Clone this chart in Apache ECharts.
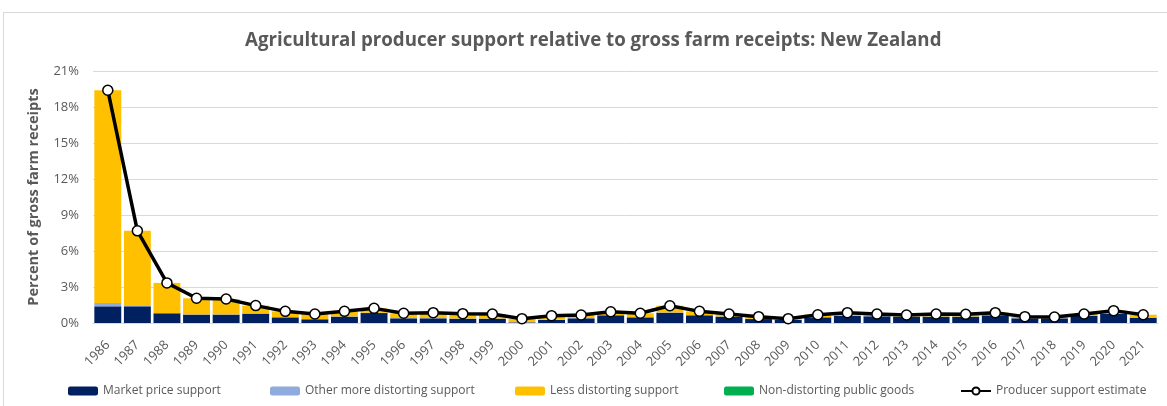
<!DOCTYPE html>
<html><head><meta charset="utf-8">
<script src="https://cdn.jsdelivr.net/npm/echarts@6/dist/echarts.min.js"></script>
<style>html,body{margin:0;padding:0;background:#fff}#c{width:1167px;height:406px}</style>
</head><body><div id="c"></div>
<script>
var years = ['1986','1987','1988','1989','1990','1991','1992','1993','1994','1995','1996','1997','1998','1999','2000','2001','2002','2003','2004','2005','2006','2007','2008','2009','2010','2011','2012','2013','2014','2015','2016','2017','2018','2019','2020','2021'];
var marketPrice = [1.39,1.39,0.81,0.70,0.70,0.78,0.47,0.31,0.53,0.83,0.39,0.39,0.36,0.36,0.05,0.25,0.39,0.64,0.47,0.86,0.64,0.53,0.33,0.25,0.47,0.61,0.56,0.53,0.53,0.53,0.64,0.39,0.39,0.61,0.75,0.44];
var otherDistorting = [0.28,0.03,0.02,0.02,0.02,0.02,0.02,0.02,0.02,0.02,0.02,0.02,0.02,0.02,0.02,0.02,0.02,0.02,0.02,0.02,0.02,0.02,0.02,0.02,0.02,0.02,0.02,0.02,0.02,0.02,0.02,0.02,0.02,0.02,0.02,0.02];
var lessDistorting = [17.73,6.26,2.51,1.34,1.28,0.65,0.48,0.42,0.42,0.37,0.40,0.45,0.40,0.37,0.29,0.34,0.26,0.28,0.32,0.56,0.31,0.20,0.18,0.09,0.20,0.23,0.17,0.12,0.20,0.17,0.20,0.12,0.09,0.12,0.26,0.23];
var nonDistorting = [0,0,0,0,0,0,0,0,0,0,0,0,0,0,0,0,0,0,0,0,0,0,0,0,0,0,0,0,0,0,0,0,0,0,0,0];
var pse = [19.40,7.68,3.34,2.06,2.00,1.45,0.97,0.75,0.97,1.22,0.81,0.86,0.78,0.75,0.36,0.61,0.67,0.94,0.81,1.44,0.97,0.75,0.53,0.36,0.69,0.86,0.75,0.67,0.75,0.72,0.86,0.53,0.50,0.75,1.03,0.69];
var seriesNames = ['Market price support','Other more distorting support','Less distorting support','Non-distorting public goods','Producer support estimate'];
var yTicks = {min:0, max:21, interval:3};

var FONT = 'Open Sans';
var grey = '#595959';
var chart = echarts.init(document.getElementById('c'), null, {renderer:'canvas'});
function bar(name, data, color){
  return {name:name, type:'bar', stack:'s', data:data, barCategoryGap:'9%',
    itemStyle:{color:color}, emphasis:{disabled:true}};
}
var legendLefts = [63, 265, 510, 719, 955];
var legends = seriesNames.map(function(n, i){
  return {left:legendLefts[i], top:380, itemWidth:30, itemHeight:9, itemGap:0,
    textStyle:{fontFamily:FONT,fontSize:12,color:grey}, data:[{name:n}], selectedMode:false};
});
chart.setOption({
  animation:false,
  textStyle:{fontFamily:FONT},
  graphic:[
    {type:'line', shape:{x1:3,y1:12.5,x2:1167,y2:12.5}, style:{stroke:'#D9D9D9',lineWidth:1}},
    {type:'line', shape:{x1:3.5,y1:12,x2:3.5,y2:406}, style:{stroke:'#D9D9D9',lineWidth:1}}
  ],
  title:{text:'Agricultural producer support relative to gross farm receipts: New Zealand',
    left:240, top:26, textStyle:{fontFamily:FONT,fontSize:18.7,fontWeight:'bold',color:grey}},
  grid:{left:93, right:9, top:71, bottom:83},
  legend:legends,
  xAxis:{type:'category', data:years,
    axisLine:{lineStyle:{color:'#D9D9D9'}}, axisTick:{show:false},
    axisLabel:{rotate:45, interval:0, fontFamily:FONT, fontSize:13, color:grey, margin:20}},
  yAxis:{type:'value', min:yTicks.min, max:yTicks.max, interval:yTicks.interval,
    name:'Percent of gross farm receipts', nameLocation:'middle', nameGap:52,
    nameTextStyle:{fontFamily:FONT,fontSize:14.5,fontWeight:'bold',color:grey},
    axisLabel:{formatter:'{value}%', fontFamily:FONT, fontSize:13, color:grey, margin:14},
    splitLine:{lineStyle:{color:'#D9D9D9'}}, axisLine:{show:false}, axisTick:{show:false}},
  series:[
    bar(seriesNames[0], marketPrice, '#002060'),
    bar(seriesNames[1], otherDistorting, '#8FAADC'),
    bar(seriesNames[2], lessDistorting, '#FFC000'),
    bar(seriesNames[3], nonDistorting, '#00B050'),
    {name:seriesNames[4], type:'line', data:pse, symbol:'circle', symbolSize:10,
      lineStyle:{color:'#000',width:3.5}, itemStyle:{color:'#fff',borderColor:'#000',borderWidth:1.5},
      z:5, emphasis:{disabled:true}}
  ]
});
</script></body></html>
